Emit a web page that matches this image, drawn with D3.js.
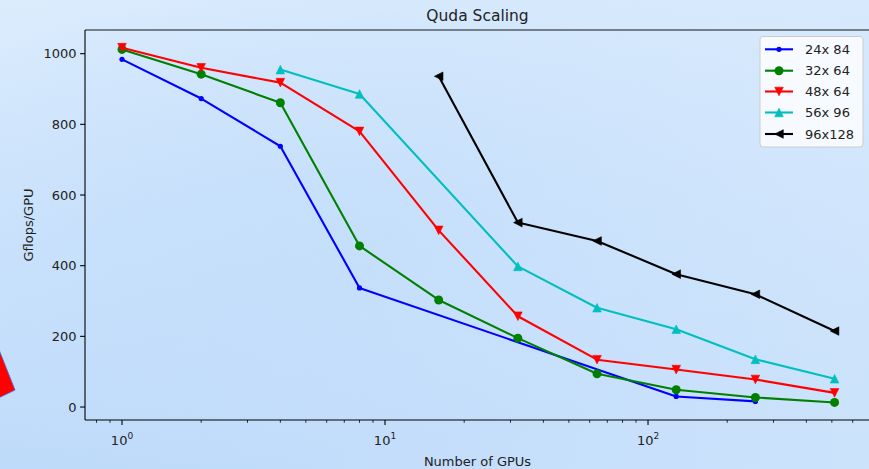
<!DOCTYPE html>
<html>
<head>
<meta charset="utf-8">
<script src="https://cdnjs.cloudflare.com/ajax/libs/d3/7.8.5/d3.min.js"></script>
<style>
  body { margin: 0; padding: 0; overflow: hidden; }
  svg { display: block; font-family: "DejaVu Sans", sans-serif; }
</style>
</head>
<body>
<svg id="chart" width="869" height="469"></svg>
<script>
// values
var seriesNames = ["24x 84", "32x 64", "48x 64", "56x 96", "96x128"];
var gpus24 = [1, 2, 4, 8, 128, 256];
var flops24 = [984, 873, 738, 337, 30, 16];
var gpus32 = [1, 2, 4, 8, 16, 32, 64, 128, 256, 512];
var flops32 = [1012, 942, 861, 456, 303, 195, 94, 49, 27, 13];
var gpus48 = [1, 2, 4, 8, 16, 32, 64, 128, 256, 512];
var flops48 = [1017, 960, 918, 780, 500, 257, 134, 106, 78, 40];
var gpus56 = [4, 8, 32, 64, 128, 256, 512];
var flops56 = [955, 886, 398, 281, 220, 135, 80];
var gpus96 = [16, 32, 64, 128, 256, 512];
var flops96 = [936, 522, 470, 376, 319, 215];
var yTicks = [0, 200, 400, 600, 800, 1000];
var xTicks = [1, 10, 100];

function drawChart() {
var series = [
  { name: seriesNames[0], x: gpus24, y: flops24, color: "#0000ff", marker: "dot" },
  { name: seriesNames[1], x: gpus32, y: flops32, color: "#008000", marker: "circle" },
  { name: seriesNames[2], x: gpus48, y: flops48, color: "#ff0000", marker: "down" },
  { name: seriesNames[3], x: gpus56, y: flops56, color: "#00bfbf", marker: "up" },
  { name: seriesNames[4], x: gpus96, y: flops96, color: "#000000", marker: "left" }
];

var svg = d3.select("#chart"),
    width = +svg.attr("width"),
    height = +svg.attr("height");

var axLeft = 85, axRight = 870, axTop = 30, axBottom = 420;

var defs = svg.append("defs");
var bg = defs.append("linearGradient").attr("id", "bg")
    .attr("x1", 0).attr("y1", 0).attr("x2", 0.3).attr("y2", 1);
bg.append("stop").attr("offset", "0%").attr("stop-color", "#dbecfd");
bg.append("stop").attr("offset", "100%").attr("stop-color", "#bcd9fa");
var glow = defs.append("radialGradient").attr("id", "glow")
    .attr("cx", 0.45).attr("cy", 0.5).attr("r", 0.6);
glow.append("stop").attr("offset", "0%").attr("stop-color", "#b8d7fa").attr("stop-opacity", 0.6);
glow.append("stop").attr("offset", "100%").attr("stop-color", "#b8d7fa").attr("stop-opacity", 0);
var fade = defs.append("linearGradient").attr("id", "fade")
    .attr("x1", 0).attr("y1", 0).attr("x2", 1).attr("y2", 0);
fade.append("stop").attr("offset", "0%").attr("stop-color", "#dcecfd").attr("stop-opacity", 0);
fade.append("stop").attr("offset", "100%").attr("stop-color", "#dcecfd").attr("stop-opacity", 0.5);

svg.append("rect").attr("width", width).attr("height", height).attr("fill", "url(#bg)");
svg.append("rect").attr("width", width).attr("height", height).attr("fill", "url(#glow)");
svg.append("rect").attr("width", width).attr("height", height).attr("fill", "url(#fade)");

// red patch poking in from the left edge
svg.append("polygon")
    .attr("points", "-12,322 15,390 -12,403")
    .attr("fill", "#ff0000")
    .attr("stroke", "#3b6fd0")
    .attr("stroke-width", 0.8);

var x = d3.scaleLog()
    .domain([Math.pow(10, -0.1407), Math.pow(10, 2.844)])
    .range([axLeft, axRight]);
var y = d3.scaleLinear()
    .domain([-36.7, 1067])
    .range([axBottom, axTop]);

// y axis ticks
var yg = svg.append("g");
yTicks.forEach(function(t) {
  yg.append("line")
      .attr("x1", axLeft - 4.9).attr("x2", axLeft)
      .attr("y1", y(t)).attr("y2", y(t))
      .attr("stroke", "#000").attr("stroke-width", 1.1);
  yg.append("text")
      .attr("x", axLeft - 8.5).attr("y", y(t))
      .attr("dy", "0.36em")
      .attr("text-anchor", "end")
      .attr("font-size", 13)
      .attr("fill", "#222")
      .text(t);
});

// x axis ticks (log, with minors)
var xg = svg.append("g");
var dom = x.domain();
for (var p = -1; p <= 2; p++) {
  for (var m = 1; m < 10; m++) {
    var v = m * Math.pow(10, p);
    if (v < dom[0] || v > dom[1]) continue;
    var major = (m == 1);
    xg.append("line")
        .attr("x1", x(v)).attr("x2", x(v))
        .attr("y1", axBottom).attr("y2", axBottom + (major ? 4.9 : 2.8))
        .attr("stroke", "#000").attr("stroke-width", major ? 1.1 : 0.8);
  }
}
xTicks.forEach(function(t) {
  var txt = xg.append("text")
      .attr("x", x(t)).attr("y", 445)
      .attr("text-anchor", "middle")
      .attr("font-size", 13)
      .attr("fill", "#222");
  txt.append("tspan").text("10");
  txt.append("tspan").attr("dy", -6).attr("font-size", 9).text(Math.round(Math.log10(t)));
});

// spines
svg.append("line").attr("x1", axLeft).attr("x2", axRight).attr("y1", axTop).attr("y2", axTop)
    .attr("stroke", "#555c66").attr("stroke-width", 1.6);
svg.append("line").attr("x1", axLeft).attr("x2", axRight).attr("y1", axBottom).attr("y2", axBottom)
    .attr("stroke", "#000").attr("stroke-width", 1.1);
svg.append("line").attr("x1", axLeft).attr("x2", axLeft).attr("y1", axTop).attr("y2", axBottom)
    .attr("stroke", "#000").attr("stroke-width", 1.1);
svg.append("line").attr("x1", axRight).attr("x2", axRight).attr("y1", axTop).attr("y2", axBottom)
    .attr("stroke", "#000").attr("stroke-width", 1.1);

// labels
svg.append("text").attr("x", (axLeft + axRight) / 2).attr("y", 21)
    .attr("text-anchor", "middle").attr("font-size", 15.5).attr("fill", "#222")
    .text("Quda Scaling");
svg.append("text").attr("x", (axLeft + axRight) / 2).attr("y", 466)
    .attr("text-anchor", "middle").attr("font-size", 13).attr("fill", "#222")
    .text("Number of GPUs");
svg.append("text")
    .attr("transform", "translate(33," + ((axTop + axBottom) / 2) + ") rotate(-90)")
    .attr("text-anchor", "middle").attr("font-size", 13).attr("fill", "#222")
    .text("Gflops/GPU");

function markerPath(kind) {
  var s = 4.3;
  if (kind == "up") return "M0," + (-s) + "L" + (-s) + "," + s + "L" + s + "," + s + "Z";
  if (kind == "down") return "M0," + s + "L" + (-s) + "," + (-s) + "L" + s + "," + (-s) + "Z";
  if (kind == "left") return "M" + (-s) + ",0L" + s + "," + (-s) + "L" + s + "," + s + "Z";
  return null;
}

function drawMarker(g, kind, cx, cy, color) {
  if (kind == "dot") {
    g.append("circle").attr("cx", cx).attr("cy", cy).attr("r", 2.6).attr("fill", color);
  } else if (kind == "circle") {
    g.append("circle").attr("cx", cx).attr("cy", cy).attr("r", 4.5).attr("fill", color);
  } else {
    g.append("path").attr("d", markerPath(kind))
        .attr("transform", "translate(" + cx + "," + cy + ")")
        .attr("fill", color).attr("stroke", color).attr("stroke-width", 0.6);
  }
}

var line = d3.line()
    .x(function(d) { return x(d[0]); })
    .y(function(d) { return y(d[1]); });

var plot = svg.append("g");
series.forEach(function(s) {
  var pts = s.x.map(function(v, i) { return [v, s.y[i]]; });
  plot.append("path")
      .attr("d", line(pts))
      .attr("fill", "none")
      .attr("stroke", s.color)
      .attr("stroke-width", 2.1)
      .attr("stroke-linejoin", "round");
  pts.forEach(function(p) {
    drawMarker(plot, s.marker, x(p[0]), y(p[1]), s.color);
  });
});

// legend
var lg = svg.append("g");
lg.append("rect")
    .attr("x", 760).attr("y", 36.5).attr("width", 103).attr("height", 110.5)
    .attr("rx", 3)
    .attr("fill", "#ffffff").attr("fill-opacity", 0.8)
    .attr("stroke", "#cccccc").attr("stroke-width", 1);
var rowY = [49.3, 70.7, 91.5, 112.5, 134];
series.forEach(function(s, i) {
  lg.append("line")
      .attr("x1", 765).attr("x2", 793)
      .attr("y1", rowY[i]).attr("y2", rowY[i])
      .attr("stroke", s.color).attr("stroke-width", 2.1);
  drawMarker(lg, s.marker, 779, rowY[i], s.color);
  lg.append("text")
      .attr("x", 805).attr("y", rowY[i])
      .attr("dy", "0.36em")
      .attr("font-size", 13).attr("fill", "#222")
      .attr("xml:space", "preserve")
      .text(s.name);
});
}

drawChart();
</script>
</body>
</html>
